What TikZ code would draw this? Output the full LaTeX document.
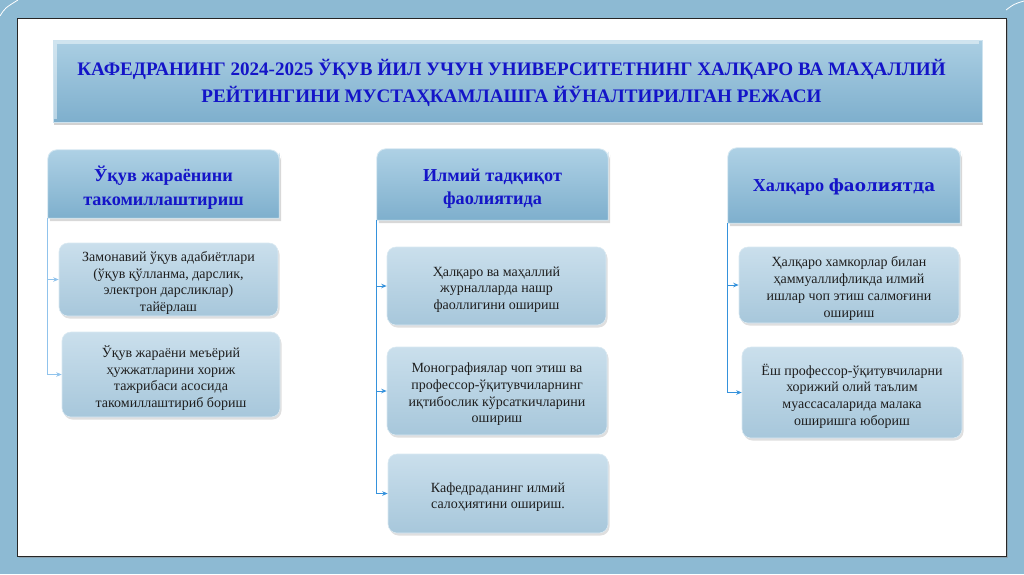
\documentclass[tikz,border=0pt]{standalone}
\usepackage{fontspec}
\setmainfont{Liberation Serif}[BoldFont={Liberation Serif Bold}]
\newfontfamily\heavyfont{DejaVu Serif}
\usetikzlibrary{shadows,arrows.meta}
\definecolor{bgblue}{HTML}{8DBAD3}
\definecolor{titleblue}{HTML}{1414C8}
\definecolor{boxtop}{HTML}{CADFEC}
\definecolor{boxbot}{HTML}{A7C7DB}
\definecolor{headtop}{HTML}{AED1E5}
\definecolor{headbot}{HTML}{7EAFCD}
\definecolor{linkblue}{HTML}{3592DC}
\definecolor{boxtext}{HTML}{1E1E1E}
\tikzset{
  titlebox/.style={rectangle, top color=headtop!90!bgblue, bottom color=headbot, draw=headtop!60!white, line width=0.8pt,
     drop shadow={shadow xshift=1pt, shadow yshift=-3pt, opacity=0.35}, inner sep=0pt},
  titletext/.style={inner sep=0pt, align=center, text=titleblue, font=\bfseries\fontsize{19.1}{27}\selectfont},
  headanchor/.style={rectangle, inner sep=0pt},
  headshape/.style={top color=headtop, bottom color=headbot, draw=headtop!50!white, line width=0.8pt,
     drop shadow={shadow xshift=2pt, shadow yshift=-3pt, opacity=0.3}},
  headtext/.style={inner sep=0pt, align=center, text=titleblue, font=\bfseries\fontsize{18.2}{23.5}\selectfont},
  itembox/.style={rectangle, rounded corners=9pt, top color=boxtop, bottom color=boxbot, draw=boxtop!70!white, line width=0.6pt,
     drop shadow={shadow xshift=1.5pt, shadow yshift=-2.5pt, opacity=0.25}, inner sep=0pt},
  itemtext/.style={inner sep=0pt, align=center, text=boxtext, font=\fontsize{14}{16.7}\selectfont},
  link/.style={draw=linkblue, line width=1pt, -{Stealth[length=5.5pt,width=4.5pt]}},
}
\newcommand\headpath[1]{%
  \path[headshape] (#1.south west) [rounded corners=9pt] -- (#1.north west) -- (#1.north east)
     -- ([yshift=-12pt]#1.north east) [sharp corners] -- (#1.south east) -- cycle;}
\begin{document}
\begin{tikzpicture}[x=1pt,y=-1pt]
\useasboundingbox (0,0) rectangle (1024,574);
% background
\fill[bgblue] (0,0) rectangle (1024,574);
\draw[white, line width=0.8pt] (0,16) .. controls (5,8) .. (18,0);
\draw[white, line width=0.8pt] (1006,10) .. controls (1014,4) .. (1024,1);
% panel
\fill[black!45, opacity=0.5] (19,20) rectangle (1008,558);
\draw[fill=white, draw=black!85, line width=1pt] (17,18) rectangle (1006,556);

% title
\node[titlebox, minimum width=929pt, minimum height=82pt] (title) at (517.5,81) {};
\draw[white, opacity=0.45, line width=2.5pt] ([shift={(3,-3)}]title.south west) -- ([shift={(3,3)}]title.north west) -- ([shift={(-3,3)}]title.north east);
\node[titletext] (titlet) at ([xshift=-6pt,yshift=-1.5pt]title.center)
  {КАФЕДРАНИНГ 2024-2025 ЎҚУВ ЙИЛ УЧУН УНИВЕРСИТЕТНИНГ ХАЛҚАРО ВА МАҲАЛЛИЙ\\РЕЙТИНГИНИ МУСТАҲКАМЛАШГА ЙЎНАЛТИРИЛГАН РЕЖАСИ};

% headers
\node[headanchor, minimum width=231pt, minimum height=68pt] (hL) at (163.5,184) {};
\headpath{hL}
\node[headtext] (hLt) at ([yshift=-3.5pt]hL.center) {Ўқув жараёнини\\такомиллаштириш};
\node[headanchor, minimum width=231pt, minimum height=71pt] (hM) at (492.5,184.5) {};
\headpath{hM}
\node[headtext] (hMt) at ([yshift=-4pt]hM.center) {Илмий тадқиқот\\фаолиятида};
\node[headanchor, minimum width=232pt, minimum height=75pt] (hR) at (844,185.5) {};
\headpath{hR}
\node[headtext] (hRt) at ([yshift=-2pt]hR.center)
  {Халқаро {\heavyfont\bfseries\fontsize{16.8}{20}\selectfont фаолиятда}};

% left items
\node[itembox, minimum width=219pt, minimum height=73pt] (L1) at (168.5,279.5) {};
\node[itemtext] (L1t) at ([yshift=-3.5pt]L1.center)
  {Замонавий ўқув адабиётлари\\(ўқув қўлланма, дарслик,\\электрон дарсликлар)\\тайёрлаш};
\node[itembox, minimum width=218pt, minimum height=85pt] (L2) at (171,374.5) {};
\node[itemtext] (L2t) at ([yshift=-3.5pt]L2.center)
  {Ўқув жараёни меъёрий\\ҳужжатларини хориж\\тажрибаси асосида\\такомиллаштириб бориш};

% middle items
\node[itembox, minimum width=219pt, minimum height=78pt] (M1) at (496.5,286) {};
\node[itemtext] (M1t) at ([yshift=-3.5pt]M1.center)
  {Ҳалқаро ва маҳаллий\\журналларда нашр\\фаоллигини ошириш};
\node[itembox, minimum width=220pt, minimum height=88pt] (M2) at (497,391) {};
\node[itemtext] (M2t) at ([yshift=-3.5pt]M2.center)
  {Монографиялар чоп этиш ва\\профессор-ўқитувчиларнинг\\иқтибослик кўрсаткичларини\\ошириш};
\node[itembox, minimum width=220pt, minimum height=79pt] (M3) at (498,493.5) {};
\node[itemtext] (M3t) at ([yshift=-3.5pt]M3.center)
  {Кафедраданинг илмий\\салоҳиятини ошириш.};

% right items
\node[itembox, minimum width=220pt, minimum height=76pt] (R1) at (849,285) {};
\node[itemtext] (R1t) at ([yshift=-3.5pt]R1.center)
  {Ҳалқаро хамкорлар билан\\ҳаммуаллифликда илмий\\ишлар чоп этиш салмоғини\\ошириш};
\node[itembox, minimum width=220pt, minimum height=91pt] (R2) at (852,392.5) {};
\node[itemtext] (R2t) at ([yshift=-3.5pt]R2.center)
  {Ёш профессор-ўқитувчиларни\\хорижий олий таълим\\муассасаларида малака\\оширишга юбориш};

% connectors
\draw[link, draw=linkblue!55!white] (hL.south west) |- (L1.west);
\draw[link, draw=linkblue!55!white] (hL.south west) |- (L2.west);
\draw[link] (hM.south west) |- (M1.west);
\draw[link] (hM.south west) |- (M2.west);
\draw[link] (hM.south west) |- (M3.west);
\draw[link] (hR.south west) |- (R1.west);
\draw[link] (hR.south west) |- (R2.west);
\end{tikzpicture}
\end{document}
